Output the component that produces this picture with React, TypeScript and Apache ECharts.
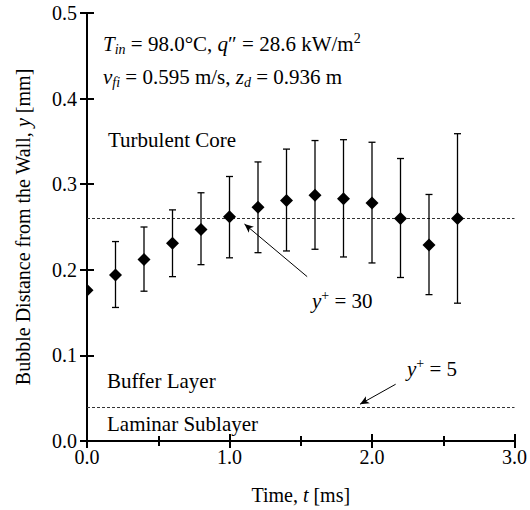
import React, { useEffect, useRef } from "react";
import * as echarts from "echarts";

// ---- data ----
const times = [0.0, 0.2, 0.4, 0.6, 0.8, 1.0, 1.2, 1.4, 1.6, 1.8, 2.0, 2.2, 2.4, 2.6];
const means = [0.176, 0.194, 0.212, 0.231, 0.247, 0.262, 0.273, 0.281, 0.287, 0.283, 0.278, 0.260, 0.229, 0.260];
const lowers = [null, 0.156, 0.175, 0.192, 0.206, 0.214, 0.220, 0.222, 0.224, 0.215, 0.208, 0.191, 0.171, 0.161];
const uppers = [null, 0.233, 0.250, 0.270, 0.290, 0.309, 0.326, 0.341, 0.351, 0.352, 0.349, 0.330, 0.288, 0.359];

const yPlus30 = 0.256;
const yPlus5 = 0.041;
// arrow annotations: [tail, head] in data coordinates
const arrow30 = [[1.545, 0.192], [1.105, 0.2535]];
const arrow5 = [[2.166, 0.0663], [1.916, 0.043]];

const FONT = "'Liberation Serif', 'Times New Roman', serif";

export default function App() {
  const ref = useRef<HTMLDivElement>(null);
  useEffect(() => {
    if (!ref.current) return;
    const chart = echarts.init(ref.current, null, { renderer: "svg" });
    const data = times.map((t, i) => [t, means[i], lowers[i] == null ? "-" : lowers[i], uppers[i] == null ? "-" : uppers[i]]);
    const base = { fontFamily: FONT, fontSize: 20, color: "#000" };
    const mk = (fs: number) => ({
      i: { fontFamily: FONT, fontSize: fs, color: "#000", fontStyle: "italic", lineHeight: fs + 4 },
      sub: { fontFamily: FONT, fontSize: Math.round(fs * 0.68), color: "#000", fontStyle: "italic", lineHeight: 12, verticalAlign: "bottom" },
      sup: { fontFamily: FONT, fontSize: Math.round(fs * 0.68), color: "#000", lineHeight: 12, verticalAlign: "top" },
    });
    const rich = mk(20);
    const rich21 = mk(21);
    const txt = (x: number, y: number, text: string) => ({
      type: "text",
      x,
      y,
      style: { text, fontFamily: FONT, fontSize: 21, fill: "#000", lineHeight: 25, align: "left", verticalAlign: "middle", rich: rich21 },
      z: 10,
    });
    const axisCommon = {
      axisLine: { lineStyle: { color: "#000", width: 2 } },
      splitLine: { show: false },
    };
    const tickStyle = { color: "#000", width: 2 };
    chart.setOption({
      animation: false,
      grid: { left: 87, right: 14, top: 13, bottom: 67, containLabel: false },
      xAxis: [
        {
          type: "value",
          min: 0,
          max: 3,
          interval: 1,
          ...axisCommon,
          axisTick: { inside: true, length: 7, lineStyle: tickStyle },
          minorTick: { show: true, splitNumber: 2, length: 5, lineStyle: tickStyle },
          axisLabel: { ...base, margin: 6, formatter: (v: number) => v.toFixed(1) },
          name: "Time, {i|t} [ms]",
          nameLocation: "middle",
          nameGap: 42,
          nameTextStyle: { ...base, rich },
        },
        {
          type: "value",
          position: "top",
          min: 0,
          max: 3,
          interval: 1,
          ...axisCommon,
          axisTick: { inside: true, length: 7, lineStyle: tickStyle },
          minorTick: { show: true, splitNumber: 2, length: 5, lineStyle: tickStyle },
          axisLabel: { show: false },
        },
      ],
      yAxis: [
        {
          type: "value",
          min: 0,
          max: 0.5,
          interval: 0.1,
          ...axisCommon,
          axisTick: { inside: true, length: 7, lineStyle: tickStyle },
          axisLabel: { ...base, margin: 10, formatter: (v: number) => v.toFixed(1) },
          name: "Bubble Distance from the Wall, {i|y} [mm]",
          nameLocation: "middle",
          nameGap: 52,
          nameTextStyle: { ...base, rich },
        },
        {
          type: "value",
          position: "right",
          min: 0,
          max: 0.5,
          interval: 0.1,
          ...axisCommon,
          axisTick: { inside: true, length: 7, lineStyle: tickStyle },
          axisLabel: { show: false },
        },
      ],
      series: [
        {
          type: "custom",
          clip: true,
          data,
          renderItem: (params: any, api: any) => {
            const x = api.value(0);
            const y = api.value(1);
            const lo = api.value(2);
            const hi = api.value(3);
            const p = api.coord([x, y]);
            const children: any[] = [];
            if (!isNaN(lo) && !isNaN(hi)) {
              const pl = api.coord([x, lo]);
              const ph = api.coord([x, hi]);
              const ls = { stroke: "#000", lineWidth: 1.3 };
              children.push({ type: "line", shape: { x1: pl[0], y1: pl[1], x2: ph[0], y2: ph[1] }, style: ls });
              children.push({ type: "line", shape: { x1: pl[0] - 3.5, y1: pl[1], x2: pl[0] + 3.5, y2: pl[1] }, style: ls });
              children.push({ type: "line", shape: { x1: ph[0] - 3.5, y1: ph[1], x2: ph[0] + 3.5, y2: ph[1] }, style: ls });
            }
            const r = 6.5;
            children.push({
              type: "polygon",
              shape: { points: [[p[0], p[1] - r], [p[0] + r, p[1]], [p[0], p[1] + r], [p[0] - r, p[1]]] },
              style: { fill: "#000" },
            });
            return { type: "group", children };
          },
          markLine: {
            silent: true,
            symbol: ["none", "none"],
            label: { show: false },
            lineStyle: { color: "#333", width: 1, type: [3, 2] },
            data: [{ yAxis: yPlus30 }, { yAxis: yPlus5 }],
          },
          z: 5,
        },
        {
          type: "line",
          data: [],
          markLine: {
            silent: true,
            symbol: ["none", "arrow"],
            symbolSize: [6, 9],
            label: { show: false },
            lineStyle: { color: "#000", width: 1, type: "solid" },
            data: [
              [{ coord: arrow30[0] }, { coord: arrow30[1] }],
              [{ coord: arrow5[0] }, { coord: arrow5[1] }],
            ],
          },
        },
      ],
      graphic: [
        txt(103, 44, "{i|T}{sub|in} = 98.0\u00B0C, {i|q}\u2033 = 28.6 kW/m{sup|2}"),
        txt(103, 77, "{i|v}{sub|fi} = 0.595 m/s, {i|z}{sub|d} = 0.936 m"),
        txt(108, 140, "Turbulent Core"),
        txt(107, 381, "Buffer Layer"),
        txt(107, 424, "Laminar Sublayer"),
        txt(312, 301, "{i|y}{sup|+} = 30"),
        txt(407, 369, "{i|y}{sup|+} = 5"),
      ],
    });
    return () => chart.dispose();
  }, []);
  return <div ref={ref} style={{ width: 530, height: 510, position: "absolute", left: 0, top: 0, background: "#fff" }} />;
}
